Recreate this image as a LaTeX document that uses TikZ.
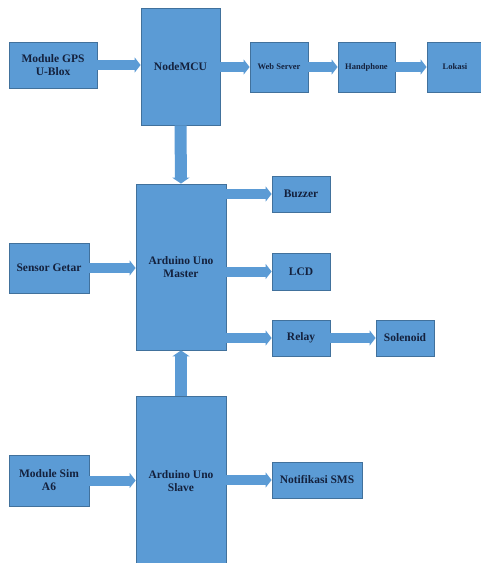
\documentclass[tikz,border=0pt]{standalone}
\usepackage{fontspec}
\setmainfont{Liberation Serif}
\usetikzlibrary{arrows.meta}
\definecolor{boxblue}{HTML}{5B9BD5}
\definecolor{boxedge}{HTML}{41719C}
\definecolor{txt}{HTML}{14213D}
\tikzset{
  blk/.style={draw=boxedge, line width=0.8pt, fill=boxblue, text=txt, align=center, inner sep=1pt,
    font=\bfseries\fontsize{11.5}{13}\selectfont},
  small/.style={font=\bfseries\fontsize{8.5}{10}\selectfont},
  barrow/.style={draw=boxblue, line width=10pt, -{Triangle[width=15pt,length=6pt]}},
  varrow/.style={draw=boxblue, line width=12pt, -{Triangle[width=17pt,length=6pt]}}
}
\begin{document}
\begin{tikzpicture}[x=1pt,y=-1pt]
\useasboundingbox (0,0) rectangle (480,563);
\fill[white] (0,0) rectangle (480,563);
% boxes
\node[blk, minimum width=88pt, minimum height=46pt] (gps) at (53,65) {Module GPS\\U-Blox};
\node[blk, minimum width=79pt, minimum height=117pt] (nodemcu) at (180.5,66.5) {NodeMCU};
\node[blk, small, minimum width=58pt, minimum height=50pt] (web) at (279,67) {Web Server};
\node[blk, small, minimum width=57pt, minimum height=50pt] (hp) at (366.5,67) {Handphone};
\node[blk, small, minimum width=56pt, minimum height=50pt] (lok) at (455,67) {Lokasi};
\node[blk, minimum width=90pt, minimum height=166pt] (master) at (181,267) {Arduino Uno\\Master};
\node[blk, minimum width=58pt, minimum height=36pt] (buzzer) at (301,194) {Buzzer};
\node[blk, minimum width=58pt, minimum height=37pt] (lcd) at (301,271.5) {LCD};
\node[blk, minimum width=58pt, minimum height=36pt] (relay) at (301,338) {Relay};
\node[blk, minimum width=58pt, minimum height=36pt] (solenoid) at (405,338) {Solenoid};
\node[blk, minimum width=80pt, minimum height=50pt] (sensor) at (49,268) {Sensor Getar};
\node[blk, minimum width=90pt, minimum height=170pt] (slave) at (181,481) {Arduino Uno\\Slave};
\node[blk, minimum width=80pt, minimum height=51pt] (sim) at (49,480.5) {Module Sim\\A6};
\node[blk, minimum width=90pt, minimum height=36pt] (sms) at (317,480) {Notifikasi SMS};
% arrows
\draw[barrow] (gps.east) -- (gps.east -| nodemcu.west);
\draw[barrow] (nodemcu.east |- web.west) -- (web.west);
\draw[barrow] (web.east) -- (hp.west);
\draw[barrow] (hp.east) -- (lok.west);
\draw[varrow] (nodemcu.south) -- (master.north);
\draw[varrow] (slave.north) -- (master.south);
\draw[barrow] (sensor.east) -- (sensor.east -| master.west);
\draw[barrow] (master.east |- buzzer.west) -- (buzzer.west);
\draw[barrow] (master.east |- lcd.west) -- (lcd.west);
\draw[barrow] (master.east |- relay.west) -- (relay.west);
\draw[barrow] (relay.east) -- (solenoid.west);
\draw[barrow] (sim.east) -- (sim.east -| slave.west);
\draw[barrow] (slave.east |- sms.west) -- (sms.west);
\end{tikzpicture}
\end{document}
